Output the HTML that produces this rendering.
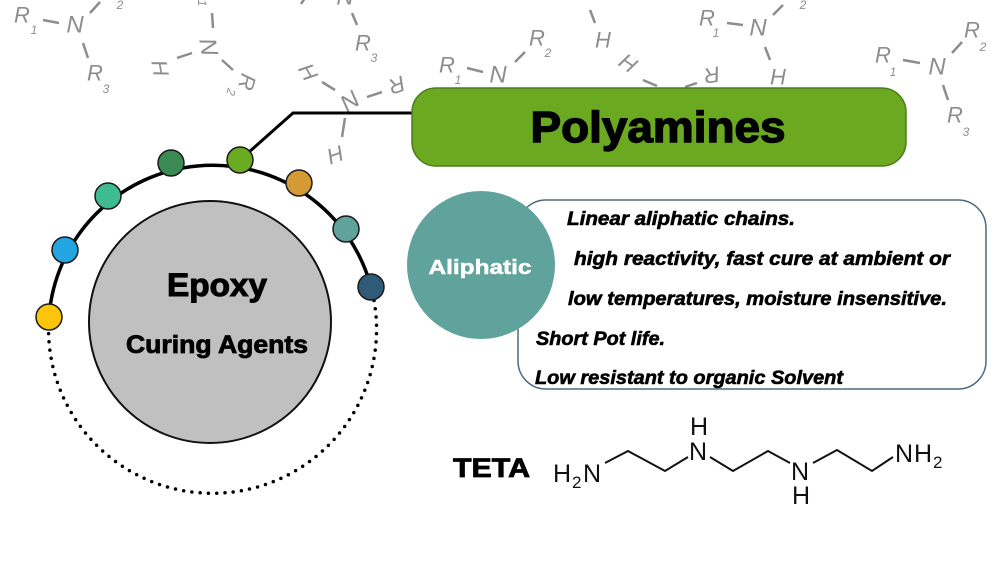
<!DOCTYPE html>
<html><head><meta charset="utf-8"><style>
html,body{margin:0;padding:0;background:#fff;}
svg{display:block;}
.bg{font-family:"Liberation Sans",sans-serif;fill:#8d8d8d;font-style:italic;}
.bl{stroke:#8d8d8d;stroke-width:2.5;stroke-linecap:butt;}
.m{font-family:"Liberation Sans",sans-serif;font-weight:bold;fill:#000;}
.d{font-family:"Liberation Sans",sans-serif;font-weight:bold;font-style:italic;fill:#000;font-size:19px;stroke:#000;stroke-width:0.6;}
.c{font-family:"Liberation Sans",sans-serif;fill:#111;font-size:25px;}
</style></head><body>
<svg width="1000" height="562" viewBox="0 0 1000 562" xmlns="http://www.w3.org/2000/svg">
<rect width="1000" height="562" fill="#fff"/>

<!-- background amine structures -->
<g class="bg" text-anchor="middle" dominant-baseline="central">
  <!-- A -->
  <text x="22" y="15" font-size="22">R</text>
  <text x="34" y="30" font-size="12">1</text>
  <text x="75" y="25" font-size="24">N</text>
  <text x="120" y="5" font-size="12">2</text>
  <text x="95" y="73" font-size="22">R</text>
  <text x="106" y="89" font-size="12">3</text>
  <!-- B -->
  <text x="202" y="3" font-size="12" transform="rotate(90 202 3)">1</text>
  <text x="208" y="47" font-size="24" transform="rotate(80 208 47)">N</text>
  <text x="160" y="68" font-size="22" transform="rotate(80 160 68)">H</text>
  <text x="247" y="82" font-size="22" transform="rotate(105 247 82)">R</text>
  <text x="231" y="92" font-size="12" transform="rotate(105 231 92)">2</text>
  <!-- C -->
  <text x="345" y="-3" font-size="24">N</text>
  <text x="363" y="43" font-size="22">R</text>
  <text x="374" y="58" font-size="12">3</text>
  <!-- D -->
  <text x="308" y="72" font-size="22" transform="rotate(60 308 72)">H</text>
  <text x="350" y="102" font-size="24" transform="rotate(-35 350 102)">N</text>
  <text x="397" y="85" font-size="22" transform="rotate(160 397 85)">R</text>
  <text x="335" y="155" font-size="22" transform="rotate(-20 335 155)">H</text>
  <!-- E -->
  <text x="447" y="65" font-size="22">R</text>
  <text x="458" y="80" font-size="12">1</text>
  <text x="498" y="75" font-size="24">N</text>
  <text x="537" y="38" font-size="22">R</text>
  <text x="548" y="53" font-size="12">2</text>
  <!-- F -->
  <text x="603" y="40" font-size="22">H</text>
  <text x="628" y="63" font-size="22" transform="rotate(35 628 63)">H</text>
  <text x="712" y="75" font-size="22" transform="rotate(170 712 75)">R</text>
  <text x="707" y="18" font-size="22">R</text>
  <text x="716" y="33" font-size="12">1</text>
  <text x="758" y="28" font-size="24">N</text>
  <text x="803" y="5" font-size="12">2</text>
  <text x="778" y="77" font-size="22">H</text>
  <!-- G -->
  <text x="883" y="55" font-size="22">R</text>
  <text x="893" y="72" font-size="12">1</text>
  <text x="937" y="67" font-size="24">N</text>
  <text x="972" y="30" font-size="22">R</text>
  <text x="983" y="47" font-size="12">2</text>
  <text x="955" y="115" font-size="22">R</text>
  <text x="966" y="132" font-size="12">3</text>
</g>
<g class="bl">
  <line x1="43" y1="20" x2="59" y2="23"/>
  <line x1="90" y1="13" x2="100" y2="2"/>
  <line x1="83" y1="43" x2="88" y2="58"/>
  <line x1="212" y1="13" x2="213" y2="28"/>
  <line x1="177" y1="58" x2="192" y2="53"/>
  <line x1="222" y1="60" x2="233" y2="70"/>
  <line x1="352" y1="13" x2="357" y2="25"/>
  <line x1="301" y1="4" x2="305" y2="-2"/>
  <line x1="322" y1="82" x2="335" y2="90"/>
  <line x1="367" y1="97" x2="382" y2="92"/>
  <line x1="345" y1="118" x2="342" y2="137"/>
  <line x1="467" y1="68" x2="483" y2="72"/>
  <line x1="515" y1="62" x2="525" y2="52"/>
  <line x1="590" y1="10" x2="595" y2="23"/>
  <line x1="643" y1="80" x2="657" y2="86"/>
  <line x1="685" y1="87" x2="697" y2="83"/>
  <line x1="727" y1="23" x2="743" y2="25"/>
  <line x1="773" y1="15" x2="783" y2="5"/>
  <line x1="765" y1="47" x2="770" y2="60"/>
  <line x1="903" y1="60" x2="920" y2="63"/>
  <line x1="952" y1="53" x2="962" y2="42"/>
  <line x1="943" y1="85" x2="948" y2="100"/>
</g>

<!-- ring -->
<path d="M 49 317 A 164 164 0 1 0 371 287" fill="none" stroke="#000" stroke-width="3.5" stroke-linecap="round" stroke-dasharray="0 8.3"/>
<path d="M 49 317 A 164 164 0 0 1 371 287" fill="none" stroke="#000" stroke-width="3.5"/>
<polyline points="240,160 293,113 413,113" fill="none" stroke="#000" stroke-width="3"/>

<g stroke="#1a1a1a" stroke-width="1.5">
  <circle cx="49" cy="317" r="13" fill="#fbc50b"/>
  <circle cx="65" cy="250" r="13" fill="#22a5e0"/>
  <circle cx="108" cy="196" r="13" fill="#3fbb91"/>
  <circle cx="171" cy="163" r="13" fill="#3b8a53"/>
  <circle cx="240" cy="160" r="13" fill="#6aab21"/>
  <circle cx="299" cy="183" r="13" fill="#d49a36"/>
  <circle cx="346" cy="229" r="13" fill="#5fa39c"/>
  <circle cx="371" cy="287" r="13" fill="#2f5b78"/>
</g>

<circle cx="210" cy="322" r="121" fill="#c0c0c0" stroke="#111" stroke-width="2"/>
<text class="m" x="217" y="296" font-size="32" stroke="#000" stroke-width="1" text-anchor="middle" textLength="100" lengthAdjust="spacingAndGlyphs">Epoxy</text>
<text class="m" x="217" y="353" font-size="25" stroke="#000" stroke-width="0.8" text-anchor="middle" textLength="182" lengthAdjust="spacingAndGlyphs">Curing Agents</text>

<!-- Polyamines -->
<rect x="412" y="88" width="494" height="78" rx="24" ry="24" fill="#6ba921" stroke="#4b7d1c" stroke-width="1.5"/>
<text class="m" x="658" y="142" font-size="44" stroke="#000" stroke-width="1.4" text-anchor="middle" textLength="255" lengthAdjust="spacingAndGlyphs">Polyamines</text>

<!-- description -->
<rect x="518" y="200" width="468" height="189" rx="28" ry="28" fill="#fff" stroke="#4d6a80" stroke-width="1.5"/>
<circle cx="481" cy="265" r="74" fill="#5fa39c"/>
<text class="m" x="480" y="274" font-size="20" style="fill:#fff" stroke="#fff" stroke-width="0.5" text-anchor="middle" textLength="103" lengthAdjust="spacingAndGlyphs">Aliphatic</text>

<text class="d" x="567" y="225" textLength="228" lengthAdjust="spacingAndGlyphs">Linear aliphatic chains.</text>
<text class="d" x="574" y="265" textLength="376" lengthAdjust="spacingAndGlyphs">high reactivity, fast cure at ambient or</text>
<text class="d" x="568" y="305" textLength="379" lengthAdjust="spacingAndGlyphs">low temperatures, moisture insensitive.</text>
<text class="d" x="536" y="345" textLength="129" lengthAdjust="spacingAndGlyphs">Short Pot life.</text>
<text class="d" x="535" y="384" textLength="308" lengthAdjust="spacingAndGlyphs">Low resistant to organic Solvent</text>

<!-- TETA -->
<text class="m" x="453" y="477" font-size="27" stroke="#000" stroke-width="0.8" textLength="77" lengthAdjust="spacingAndGlyphs">TETA</text>
<g class="c">
  <text x="553" y="482">H</text>
  <text x="572" y="488" font-size="17">2</text>
  <text x="583" y="482">N</text>
  <text x="689" y="460">N</text>
  <text x="690" y="435">H</text>
  <text x="791" y="480">N</text>
  <text x="792" y="504">H</text>
  <text x="895" y="462">N</text>
  <text x="914" y="462">H</text>
  <text x="933" y="468" font-size="17">2</text>
</g>
<polyline points="605,463 628,451 665,471 688,457" fill="none" stroke="#111" stroke-width="2"/>
<polyline points="710,457 733,471 768,451 790,463" fill="none" stroke="#111" stroke-width="2"/>
<polyline points="813,463 837,450 872,471 893,457" fill="none" stroke="#111" stroke-width="2"/>
</svg>
</body></html>
